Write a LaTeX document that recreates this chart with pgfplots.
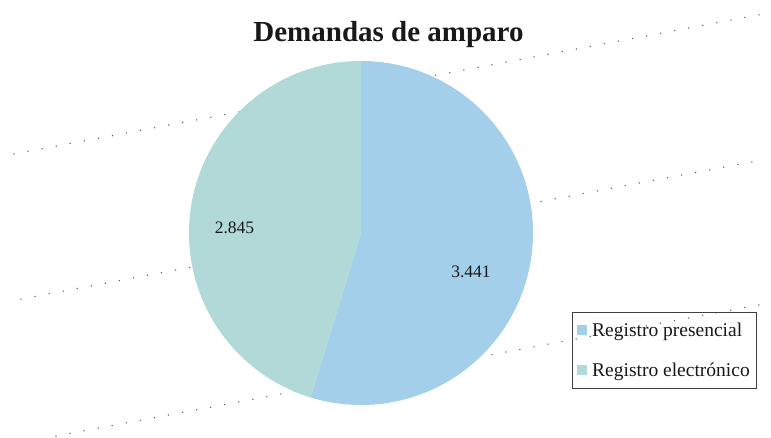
\documentclass[border=0pt]{standalone}
\usepackage{pgfplots}
\pgfplotsset{compat=1.18}
\usepackage{fontspec}
\setmainfont{Liberation Serif}
\definecolor{cblue}{RGB}{163,207,234}
\definecolor{cteal}{RGB}{176,217,216}
\begin{document}
\begin{tikzpicture}
\def\vA{3441}\def\vB{2845}
\pgfmathsetmacro{\fracA}{\vA/(\vA+\vB)}
\pgfmathsetmacro{\endA}{90-360*\fracA}
\pgfmathsetmacro{\endB}{\endA+360}
\begin{axis}[width=771pt,height=437pt,scale only axis,
  xmin=0,xmax=771,ymin=0,ymax=437,hide axis,clip=false,
  legend style={at={(axis cs:572,125)},anchor=north west,draw=black!75,line width=0.8pt,
    fill=none,font=\fontsize{19.5}{19.5}\selectfont,text=black!90,
    cells={anchor=west},row sep=21pt,inner xsep=5pt,inner ysep=8.5pt},
  legend cell align=left]
\addplot[black!65,line width=1.5pt,dash pattern=on 0pt off 14.3pt,line cap=round,forget plot] coordinates {(14,283) (769,424)};
\addplot[black!65,line width=1.5pt,dash pattern=on 0pt off 14.3pt,line cap=round,forget plot] coordinates {(21,138) (762,277)};
\addplot[black!65,line width=1.5pt,dash pattern=on 0pt off 14.3pt,line cap=round,forget plot] coordinates {(56,1) (769,134)};
\fill[cblue] (axis cs:361,204) -- (axis cs:361,376) arc[start angle=90,end angle=\endA,radius=172pt] -- cycle;
\fill[cteal] (axis cs:361,204) -- (axis cs:361,376) arc[start angle=90,end angle=\endB,radius=172pt] -- cycle;
\addlegendimage{legend image code/.code={\fill[cblue] (0pt,-4pt) rectangle (9pt,5pt); \path (12pt,0pt);}}
\addlegendentry{Registro presencial}
\addlegendimage{legend image code/.code={\fill[cteal] (0pt,-4pt) rectangle (9pt,5pt); \path (12pt,0pt);}}
\addlegendentry{Registro electrónico}
\node[anchor=base,font=\fontsize{17.5}{17.5}\selectfont,text=black!90] at (axis cs:234.5,204) {2.845};
\node[anchor=base,font=\fontsize{17.5}{17.5}\selectfont,text=black!90] at (axis cs:471,160) {3.441};
\node[anchor=base,font=\bfseries\fontsize{29}{29}\selectfont,text=black!90] at (axis cs:388.5,395) {Demandas de amparo};
\end{axis}
\pgfresetboundingbox
\path[use as bounding box] (current axis.south west) rectangle (current axis.north east);
\end{tikzpicture}
\end{document}
